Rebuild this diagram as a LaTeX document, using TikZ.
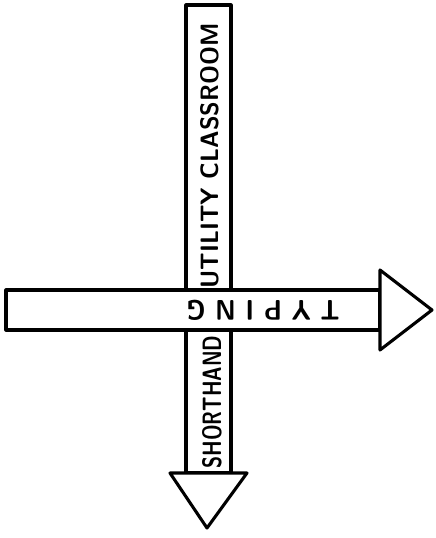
\documentclass[tikz,border=0pt]{standalone}
\usepackage{graphicx}
\usepackage{tikz}
\usetikzlibrary{positioning, calc}
\newlength{\pxu}
\setlength{\pxu}{0.025cm}

\begin{document}
\begin{tikzpicture}[
    x=\pxu, y=-\pxu,
    outline/.style={draw=black, line width=2.2pt, line join=round, fill=white},
    lettering/.style={inner sep=0pt, font=\sffamily\bfseries}
]
    \useasboundingbox (0,0) rectangle (435,538);

    % Vertical arrow
    \draw[outline] (186,5) rectangle (231,473);
    \draw[outline] (170,473) -- (247,473) -- (207,528) -- cycle;
    \node[lettering, rotate=90] (classroom) at (210,156) {\resizebox{265\pxu}{18\pxu}{UTILITY CLASSROOM}};
    \node[lettering, rotate=90] (shorthand) at (212,402) {\resizebox{133\pxu}{19\pxu}{SHORTHAND}};

    % Horizontal arrow
    \draw[outline] (6,290) rectangle (380,330);
    \draw[outline] (380,270) -- (432,310) -- (380,350) -- cycle;
    \node[lettering, rotate=180] (typing) at (263,310) {\resizebox{153\pxu}{20\pxu}{T Y P I N G}};

\end{tikzpicture}
\end{document}
